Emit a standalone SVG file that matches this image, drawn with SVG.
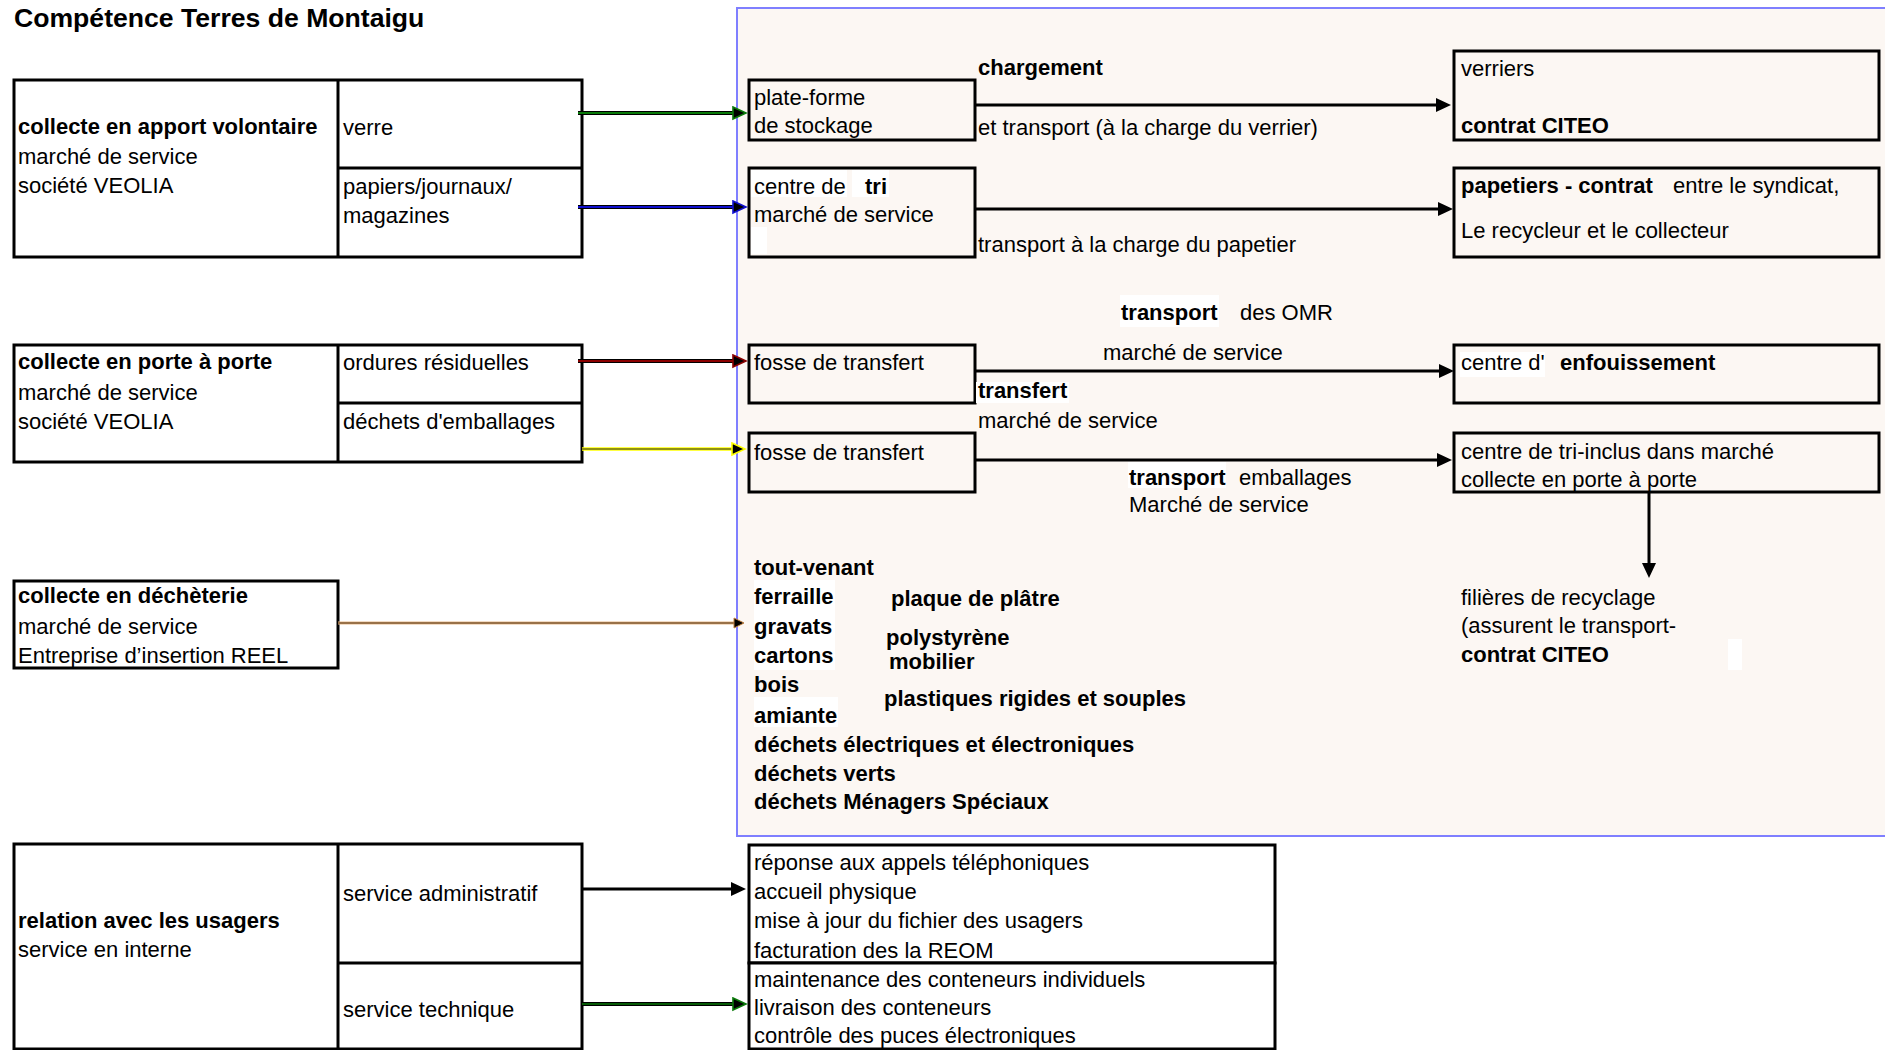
<svg xmlns="http://www.w3.org/2000/svg" width="1885" height="1050" viewBox="0 0 1885 1050">
<style>
.t{font-family:"Liberation Sans",Arial,sans-serif;font-size:22px;fill:#000}
.b{font-weight:bold}
.title{font-family:"Liberation Sans",Arial,sans-serif;font-size:26.6px;font-weight:bold;fill:#000}
.box{fill:#fff;stroke:#000;stroke-width:3}
.pbox{fill:#fcf7f3;stroke:#000;stroke-width:3}
.dv{stroke:#000;stroke-width:3;fill:none}
.hl{fill:#fff}
.blk{stroke:#000;stroke-width:3;fill:none}
.edge{stroke:#000;stroke-width:4;fill:none}
</style>
<defs>
<marker id="ahB" markerUnits="userSpaceOnUse" markerWidth="16" markerHeight="14" refX="11" refY="7" orient="auto"><path d="M0,0 L15,7 L0,14 Z" fill="#000"/></marker>
<marker id="ahG" markerUnits="userSpaceOnUse" markerWidth="16" markerHeight="16" refX="10" refY="7" orient="auto"><path d="M1,1 L14,7 L1,13 Z" fill="#000" stroke="#0a7a0a" stroke-width="1.6"/></marker>
<marker id="ahU" markerUnits="userSpaceOnUse" markerWidth="16" markerHeight="16" refX="10" refY="7" orient="auto"><path d="M1,1 L14,7 L1,13 Z" fill="#000" stroke="#1010d0" stroke-width="1.6"/></marker>
<marker id="ahR" markerUnits="userSpaceOnUse" markerWidth="16" markerHeight="16" refX="10" refY="7" orient="auto"><path d="M1,1 L14,7 L1,13 Z" fill="#000" stroke="#8b0000" stroke-width="1.6"/></marker>
<marker id="ahY" markerUnits="userSpaceOnUse" markerWidth="16" markerHeight="16" refX="10" refY="7" orient="auto"><path d="M1,1 L14,7 L1,13 Z" fill="#000" stroke="#ffff00" stroke-width="1.6"/></marker>
<marker id="ahO" markerUnits="userSpaceOnUse" markerWidth="14" markerHeight="14" refX="8" refY="6" orient="auto"><path d="M1,1 L11,6 L1,11 Z" fill="#000" stroke="#c08040" stroke-width="1"/></marker>
</defs>

<rect width="1885" height="1050" fill="#fff"/>
<text class="title" x="14" y="27">Compétence Terres de Montaigu</text>

<g id="panel">
<rect x="737" y="8" width="1160" height="828" fill="#fcf7f3" stroke="#7f7fff" stroke-width="2"/>
</g>

<g id="apport-volontaire">
<rect class="box" x="14" y="80" width="568" height="177"/>
<line class="dv" x1="338" y1="80" x2="338" y2="257"/>
<line class="dv" x1="338" y1="168" x2="582" y2="168"/>
<text class="t b" x="18" y="134">collecte en apport volontaire</text>
<text class="t" x="18" y="164">marché de service</text>
<text class="t" x="18" y="193">société VEOLIA</text>
<text class="t" x="343" y="135">verre</text>
<text class="t" x="343" y="194">papiers/journaux/</text>
<text class="t" x="343" y="223">magazines</text>
</g>

<g id="porte-a-porte">
<rect class="box" x="14" y="345" width="568" height="117"/>
<line class="dv" x1="338" y1="345" x2="338" y2="462"/>
<line class="dv" x1="338" y1="403" x2="582" y2="403"/>
<text class="t b" x="18" y="369">collecte en porte à porte</text>
<text class="t" x="18" y="400">marché de service</text>
<text class="t" x="18" y="429">société VEOLIA</text>
<text class="t" x="343" y="370">ordures résiduelles</text>
<text class="t" x="343" y="429">déchets d'emballages</text>
</g>

<g id="decheterie">
<rect class="box" x="14" y="581" width="324" height="87"/>
<text class="t b" x="18" y="603">collecte en déchèterie</text>
<text class="t" x="18" y="634">marché de service</text>
<text class="t" x="18" y="663">Entreprise d’insertion REEL</text>
</g>

<g id="usagers">
<rect class="box" x="14" y="844" width="568" height="205"/>
<line class="dv" x1="338" y1="844" x2="338" y2="1049"/>
<line class="dv" x1="338" y1="963" x2="582" y2="963"/>
<text class="t b" x="18" y="928">relation avec les usagers</text>
<text class="t" x="18" y="957">service en interne</text>
<text class="t" x="343" y="901">service administratif</text>
<text class="t" x="343" y="1017">service technique</text>
</g>

<g id="plateforme">
<rect class="pbox" x="749" y="80" width="226" height="60"/>
<text class="t" x="754" y="105">plate-forme</text>
<text class="t" x="754" y="133">de stockage</text>
</g>

<g id="centre-tri">
<rect class="pbox" x="749" y="168" width="226" height="89"/>
<rect class="hl" x="751" y="170" width="96" height="27"/>
<rect class="hl" x="852" y="170" width="37" height="27"/>
<rect class="hl" x="751" y="227" width="16" height="27"/>
<text class="t" x="754" y="194">centre de</text>
<text class="t b" x="865" y="194">tri</text>
<text class="t" x="754" y="222">marché de service</text>
</g>

<g id="fosse1">
<rect class="pbox" x="749" y="345" width="226" height="58"/>
<text class="t" x="754" y="370">fosse de transfert</text>
</g>

<g id="fosse2">
<rect class="pbox" x="749" y="433" width="226" height="59"/>
<text class="t" x="754" y="460">fosse de transfert</text>
</g>

<g id="verriers">
<rect class="pbox" x="1454" y="51" width="425" height="89"/>
<text class="t" x="1461" y="76">verriers</text>
<text class="t b" x="1461" y="133">contrat CITEO</text>
</g>

<g id="papetiers">
<rect class="pbox" x="1454" y="168" width="425" height="89"/>
<text class="t b" x="1461" y="193">papetiers - contrat</text>
<text class="t" x="1673" y="193">entre le syndicat,</text>
<text class="t" x="1461" y="238">Le recycleur et le collecteur</text>
</g>

<g id="enfouissement">
<rect class="pbox" x="1454" y="345" width="425" height="58"/>
<rect class="hl" x="1460" y="352" width="85" height="25"/>
<text class="t" x="1461" y="370">centre d'</text>
<text class="t b" x="1560" y="370">enfouissement</text>
</g>

<g id="tri-inclus">
<rect class="pbox" x="1454" y="433" width="425" height="59"/>
<text class="t" x="1461" y="459">centre de tri-inclus dans marché</text>
<text class="t" x="1461" y="487">collecte en porte à porte</text>
</g>

<g id="filieres">
<rect class="hl" x="1728" y="639" width="14" height="31"/>
<text class="t" x="1461" y="605">filières de recyclage</text>
<text class="t" x="1461" y="633">(assurent le transport-</text>
<text class="t b" x="1461" y="662">contrat CITEO</text>
</g>

<g id="flux-decheterie">
<rect class="hl" x="754" y="580" width="81" height="90"/>
<rect class="hl" x="754" y="697" width="84" height="30"/>
<text class="t b" x="754" y="575">tout-venant</text>
<text class="t b" x="754" y="604">ferraille</text>
<text class="t b" x="754" y="634">gravats</text>
<text class="t b" x="754" y="663">cartons</text>
<text class="t b" x="754" y="692">bois</text>
<text class="t b" x="754" y="723">amiante</text>
<text class="t b" x="754" y="752">déchets électriques et électroniques</text>
<text class="t b" x="754" y="781">déchets verts</text>
<text class="t b" x="754" y="809">déchets Ménagers Spéciaux</text>
<text class="t b" x="891" y="606">plaque de plâtre</text>
<text class="t b" x="886" y="645">polystyrène</text>
<text class="t b" x="889" y="669">mobilier</text>
<text class="t b" x="884" y="706">plastiques rigides et souples</text>
</g>

<g id="admin-taches">
<rect class="box" x="749" y="845" width="526" height="118"/>
<text class="t" x="754" y="870">réponse aux appels téléphoniques</text>
<text class="t" x="754" y="899">accueil physique</text>
<text class="t" x="754" y="928">mise à jour du fichier des usagers</text>
<text class="t" x="754" y="958">facturation des la REOM</text>
</g>

<g id="tech-taches">
<rect class="box" x="749" y="963" width="526" height="86"/>
<text class="t" x="754" y="987">maintenance des conteneurs individuels</text>
<text class="t" x="754" y="1015">livraison des conteneurs</text>
<text class="t" x="754" y="1043">contrôle des puces électroniques</text>
</g>

<g id="labels">
<text class="t b" x="978" y="75">chargement</text>
<text class="t" x="978" y="135">et transport (à la charge du verrier)</text>
<text class="t" x="978" y="252">transport à la charge du papetier</text>
<rect class="hl" x="1120" y="295" width="99" height="32"/>
<text class="t b" x="1121" y="320">transport</text>
<text class="t" x="1240" y="320">des OMR</text>
<text class="t" x="1103" y="360">marché de service</text>
<rect class="hl" x="976" y="382" width="93" height="21"/>
<text class="t b" x="978" y="398">transfert</text>
<text class="t" x="978" y="428">marché de service</text>
<rect class="hl" x="1128" y="462" width="98" height="26"/>
<text class="t b" x="1129" y="485">transport</text>
<text class="t" x="1239" y="485">emballages</text>
<text class="t" x="1129" y="512">Marché de service</text>
</g>

<g id="connectors">
<line class="edge" x1="578" y1="113" x2="742" y2="113"/>
<line x1="578" y1="113" x2="742" y2="113" stroke="#0a7a0a" stroke-width="2" marker-end="url(#ahG)"/>
<line class="edge" x1="578" y1="207" x2="742" y2="207"/>
<line x1="578" y1="207" x2="742" y2="207" stroke="#1010d0" stroke-width="2" marker-end="url(#ahU)"/>
<line class="edge" x1="578" y1="361" x2="742" y2="361"/>
<line x1="578" y1="361" x2="742" y2="361" stroke="#8b0000" stroke-width="2" marker-end="url(#ahR)"/>
<line x1="582" y1="449" x2="741" y2="449" stroke="#ffff00" stroke-width="3.5"/>
<line x1="582" y1="449" x2="741" y2="449" stroke="#222" stroke-width="1" marker-end="url(#ahY)"/>
<line x1="338" y1="623" x2="741" y2="623" stroke="#e8b888" stroke-width="3"/>
<line x1="338" y1="623" x2="741" y2="623" stroke="#4a2a08" stroke-width="1" marker-end="url(#ahO)"/>
<line class="blk" x1="975" y1="105" x2="1447" y2="105" marker-end="url(#ahB)"/>
<line class="blk" x1="975" y1="209" x2="1449" y2="209" marker-end="url(#ahB)"/>
<line class="blk" x1="975" y1="371" x2="1450" y2="371" marker-end="url(#ahB)"/>
<line class="blk" x1="975" y1="460" x2="1448" y2="460" marker-end="url(#ahB)"/>
<line class="blk" x1="1649" y1="492" x2="1649" y2="574" marker-end="url(#ahB)"/>
<line class="blk" x1="582" y1="889" x2="742" y2="889" marker-end="url(#ahB)"/>
<line class="edge" x1="582" y1="1004" x2="742" y2="1004" stroke-width="3"/>
<line x1="582" y1="1004" x2="742" y2="1004" stroke="#0a7a0a" stroke-width="1.5" marker-end="url(#ahG)"/>
</g>
</svg>
